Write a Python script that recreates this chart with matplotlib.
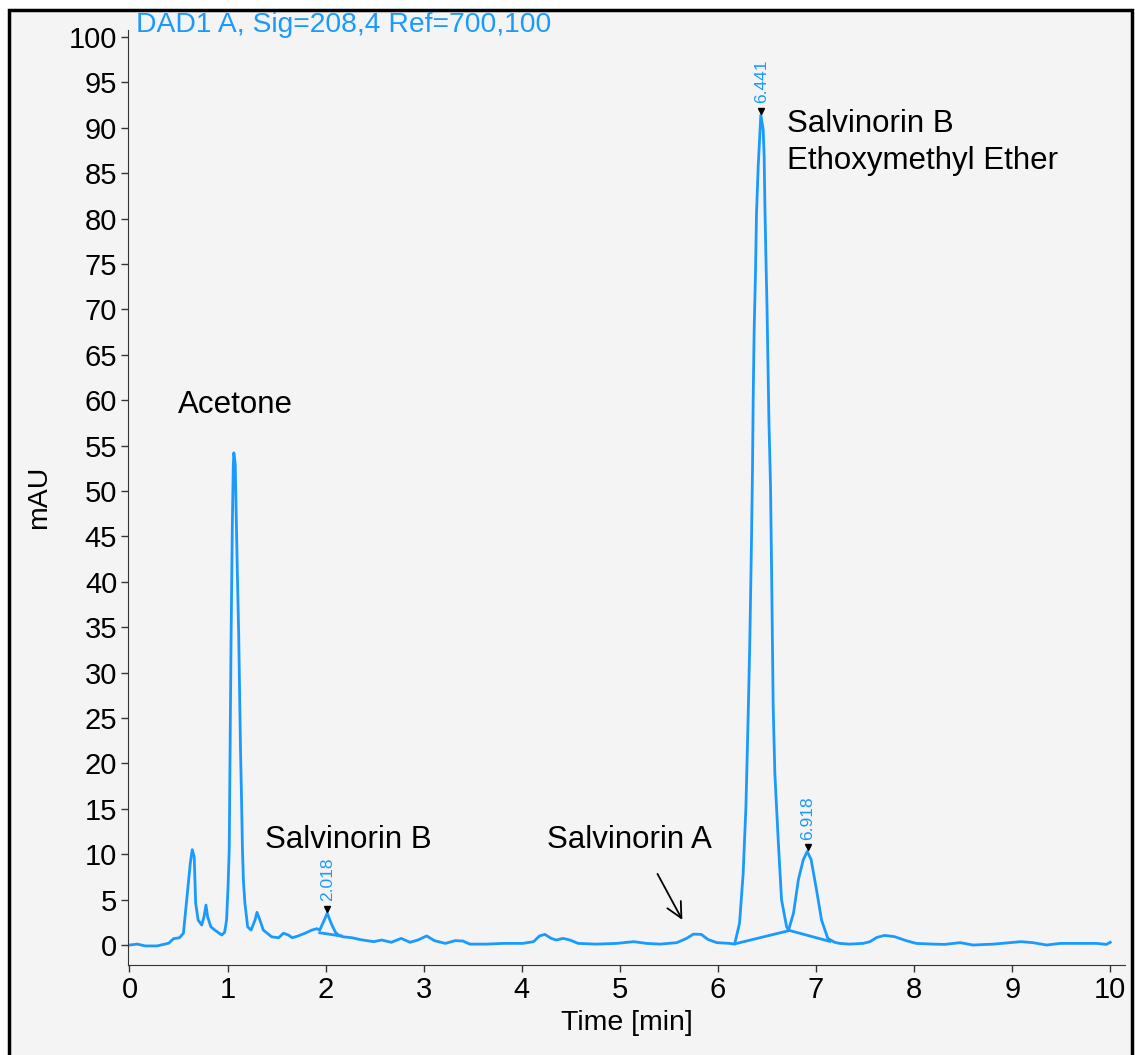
import matplotlib
matplotlib.use("Agg")
import matplotlib.pyplot as plt
from matplotlib.patches import Rectangle

plt.rcParams['font.family'] = ['Liberation Sans', 'DejaVu Sans']

# Signal DAD1 A
temps = [0.00, 0.08, 0.16, 0.28, 0.40, 0.45, 0.51, 0.55, 0.58, 0.62, 0.64, 0.66, 0.675,
         0.70, 0.736, 0.76, 0.78, 0.797, 0.83, 0.87, 0.94, 0.97, 0.99, 1.005, 1.017,
         1.035, 1.048, 1.058, 1.064, 1.078, 1.088, 1.100, 1.114, 1.124, 1.132, 1.142,
         1.152, 1.162, 1.177, 1.205, 1.24, 1.28, 1.30, 1.33, 1.364, 1.45, 1.52, 1.57,
         1.62, 1.66, 1.72, 1.79, 1.86, 1.91, 1.94, 1.98, 2.016, 2.06, 2.10, 2.13, 2.18,
         2.27, 2.35, 2.49, 2.57, 2.67, 2.77, 2.86, 2.94, 3.03, 3.11, 3.22, 3.32, 3.40,
         3.47, 3.64, 3.81, 4.01, 4.12, 4.18, 4.235, 4.30, 4.35, 4.42, 4.49, 4.575, 4.76,
         4.97, 5.14, 5.27, 5.41, 5.58, 5.68, 5.75, 5.83, 5.90, 5.99, 6.12, 6.17, 6.22,
         6.257, 6.285, 6.31, 6.325, 6.342, 6.352, 6.359, 6.369, 6.383, 6.393, 6.41,
         6.437, 6.461, 6.471, 6.478, 6.488, 6.50, 6.51, 6.52, 6.536, 6.546, 6.563,
         6.58, 6.614, 6.648, 6.70, 6.72, 6.77, 6.82, 6.87, 6.91, 6.95, 7.005, 7.056,
         7.12, 7.19, 7.24, 7.34, 7.48, 7.55, 7.62, 7.70, 7.80, 7.92, 8.02, 8.19, 8.31,
         8.47, 8.60, 8.81, 8.98, 9.09, 9.21, 9.35, 9.49, 9.69, 9.86, 9.96, 10.0]
signal = [0.0, 0.1, -0.1, -0.1, 0.2, 0.7, 0.8, 1.3, 4.6, 9.0, 10.5, 9.7, 4.6,
          2.75, 2.2, 3.1, 4.4, 3.1, 2.0, 1.65, 1.1, 1.4, 2.75, 6.4, 10.5,
          32.9, 45.7, 52.7, 54.2, 53.0, 47.4, 40.9, 34.0, 27.0, 21.5, 16.3,
          10.5, 7.0, 4.6, 2.0, 1.65, 2.75, 3.6, 2.75, 1.65, 0.9, 0.8, 1.3,
          1.1, 0.8, 1.0, 1.3, 1.65, 1.8, 1.65, 2.6, 3.5, 2.3, 1.4, 1.1, 0.9,
          0.8, 0.6, 0.37, 0.55, 0.3, 0.73, 0.3, 0.55, 1.0, 0.48, 0.18, 0.48, 0.44,
          0.1, 0.1, 0.18, 0.18, 0.37, 1.0, 1.17, 0.73, 0.55, 0.73, 0.55, 0.18, 0.1,
          0.18, 0.37, 0.18, 0.1, 0.26, 0.73, 1.2, 1.17, 0.6, 0.26, 0.18, 0.1, 2.4,
          7.9, 15.2, 26.2, 33.6, 44.6, 52.3, 60.0, 67.7, 74.3, 80.6, 85.7,
          91.4, 89.8, 86.8, 81.7, 76.2, 70.3, 63.7, 57.5, 50.5, 42.0, 26.2,
          18.9, 11.6, 5.0, 2.0, 1.65, 3.5, 7.2, 9.4, 10.3, 9.4, 6.05, 2.75,
          0.73, 0.3, 0.18, 0.1, 0.18, 0.37, 0.84, 1.06, 0.92, 0.48, 0.18, 0.1, 0.07,
          0.26, 0.0, 0.1, 0.26, 0.37, 0.26, 0.0, 0.18, 0.18, 0.18, 0.07, 0.3]

# Lignes de base d'intégration
base1_t = [1.94, 2.16]
base1_y = [1.35, 0.99]
base2_t = [6.18, 6.73, 7.14]
base2_y = [0.15, 1.6, 0.4]

# Pics intégrés
pics_t = [2.018, 6.441, 6.918]
pics_y = [3.5, 91.4, 10.3]
pics_txt = ['2.018', '6.441', '6.918']

bleu = '#1a9aff'

fig = plt.figure(figsize=(11.35, 10.55), dpi=100)
fond = Rectangle((9 / 1135, -0.01), 1123 / 1135, 1.01 - 10 / 1055,
                 transform=fig.transFigure, facecolor='#f4f4f4',
                 edgecolor='black', linewidth=2.5, zorder=-10)
fig.patches.append(fond)

ax = fig.add_axes([128.3 / 1135, 1 - 965 / 1055, (1125 - 128.3) / 1135, (965 - 29.7) / 1055])
ax.set_facecolor('none')
ax.set_zorder(5)

ax.plot(temps, signal, color=bleu, linewidth=2.0)
ax.plot(base1_t, base1_y, color=bleu, linewidth=2.0)
ax.plot(base2_t, base2_y, color=bleu, linewidth=2.0)

for t, y, txt in zip(pics_t, pics_y, pics_txt):
    ax.plot(t, y + 0.5, marker='v', color='black', markersize=4, linestyle='none')
    ax.text(t, y + 1.3, txt, rotation=90, ha='center', va='bottom', color=bleu, fontsize=12.5)

# Noms des composés
ax.text(0.494, 58.6, 'Acetone', fontsize=22.5, va='baseline')
ax.text(1.38, 10.7, 'Salvinorin B', fontsize=22.5, va='baseline')
ax.text(4.256, 10.7, 'Salvinorin A', fontsize=22.5, va='baseline')
ax.text(6.70, 89.5, 'Salvinorin B', fontsize=22.5, va='baseline')
ax.text(6.70, 85.5, 'Ethoxymethyl Ether', fontsize=22.5, va='baseline')
ax.annotate('', xy=(5.65, 2.5), xytext=(5.37, 8.1),
            arrowprops=dict(arrowstyle='->,head_length=1.1,head_width=0.55', color='black', linewidth=1.3))

fig.text(136 / 1135, 1 - 12 / 1055, 'DAD1 A, Sig=208,4 Ref=700,100', color=bleu,
         fontsize=20.3, ha='left', va='top', zorder=10)

ax.set_xlim(-0.012, 10.15)
ax.set_ylim(-2.2, 100.8)
ax.set_xticks(range(0, 11))
ax.set_yticks(range(0, 101, 5))
ax.tick_params(direction='out', length=5, width=1, labelsize=21, pad=3, color='#333333')
ax.spines['top'].set_visible(False)
ax.spines['right'].set_visible(False)
ax.spines['left'].set_color('#333333')
ax.spines['bottom'].set_color('#333333')

ax.set_xlabel('Time [min]', fontsize=20.5, labelpad=4)
ax.set_ylabel('mAU', fontsize=20.5, labelpad=12)

fig.savefig('out.png', dpi=100, facecolor='white')
